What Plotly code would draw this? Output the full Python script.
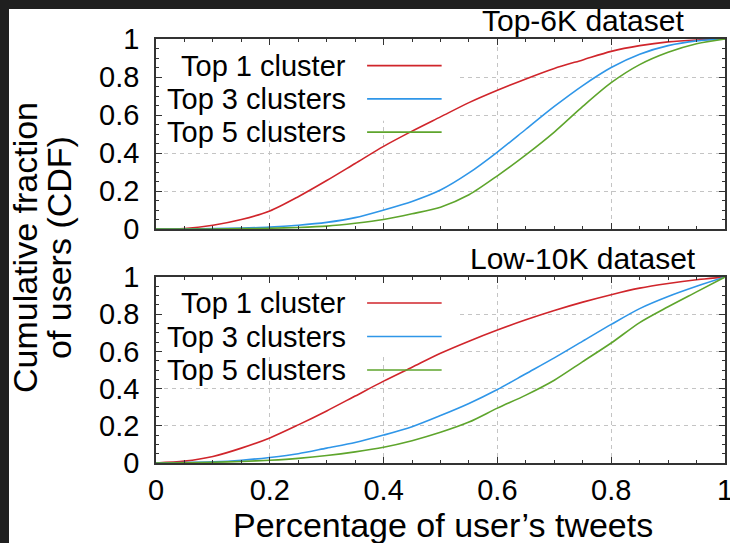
import plotly.graph_objects as go

# Fraction of a user's tweets (x) and cumulative fraction of users (y)
pct = [0.0, 0.05, 0.1, 0.15, 0.2, 0.25, 0.3, 0.35, 0.4, 0.45, 0.5,
       0.55, 0.6, 0.65, 0.7, 0.75, 0.8, 0.85, 0.9, 0.95, 1.0]

# Top-6K dataset
top6k_top1 = [0, 0.003, 0.02, 0.05, 0.095, 0.17, 0.255, 0.345, 0.435, 0.515, 0.59,
              0.665, 0.73, 0.79, 0.845, 0.89, 0.935, 0.965, 0.985, 0.995, 1.0]
top6k_top3 = [0, 0, 0.002, 0.005, 0.01, 0.02, 0.035, 0.06, 0.10, 0.145, 0.205,
              0.295, 0.405, 0.525, 0.645, 0.755, 0.85, 0.92, 0.965, 0.99, 1.0]
top6k_top5 = [0, 0, 0, 0.002, 0.004, 0.008, 0.015, 0.03, 0.05, 0.08, 0.115,
              0.18, 0.28, 0.39, 0.51, 0.645, 0.77, 0.865, 0.93, 0.975, 1.0]

# Low-10K dataset
low10k_top1 = [0, 0.01, 0.035, 0.08, 0.135, 0.205, 0.28, 0.36, 0.44, 0.515, 0.59,
               0.655, 0.715, 0.77, 0.82, 0.865, 0.905, 0.94, 0.965, 0.985, 1.0]
low10k_top3 = [0, 0.002, 0.006, 0.015, 0.03, 0.05, 0.08, 0.11, 0.15, 0.195, 0.255,
               0.32, 0.395, 0.48, 0.565, 0.655, 0.745, 0.83, 0.895, 0.95, 1.0]
low10k_top5 = [0, 0.001, 0.004, 0.008, 0.015, 0.025, 0.04, 0.06, 0.085, 0.12, 0.165,
               0.22, 0.295, 0.365, 0.445, 0.545, 0.645, 0.755, 0.84, 0.92, 1.0]

series_names = ["Top 1 cluster", "Top 3 clusters", "Top 5 clusters"]
colors = ["#d0252b", "#2f96e8", "#5ea52c"]
panel_titles = ["Top-6K dataset", "Low-10K dataset"]
tick_vals = [0, 0.2, 0.4, 0.6, 0.8, 1]
tick_text = ["0", "0.2", "0.4", "0.6", "0.8", "1"]

FONT = "Liberation Sans, Arial, Helvetica, sans-serif"
W, H = 730, 543
ML, MR, MT, MB = 156, 5, 39, 80
PW, PH = W - ML - MR, H - MT - MB


def px_to_paper_x(p):
    return (p - ML) / PW


def px_to_paper_y(p):
    return (H - MB - p) / PH


fig = go.Figure()

panels = [
    ("x2", "y2", [top6k_top1, top6k_top3, top6k_top5]),
    ("x", "y", [low10k_top1, low10k_top3, low10k_top5]),
]
for xa, ya, data in panels:
    for name, col, vals in zip(series_names, colors, data):
        fig.add_trace(go.Scatter(
            x=pct, y=vals, mode="lines", name=name, xaxis=xa, yaxis=ya,
            line=dict(color=col, width=1.6, shape="spline", smoothing=0.8),
            showlegend=False, hoverinfo="skip",
        ))

axis_common = dict(
    range=[0, 1], showline=True, linecolor="#333333", linewidth=1.5,
    mirror="allticks", ticks="inside", ticklen=6, tickwidth=1.2, tickcolor="#333333",
    tickvals=tick_vals, ticktext=tick_text,
    showgrid=True, gridcolor="#c4c4c4", gridwidth=1, griddash="4px,4px",
    zeroline=False, automargin=False,
    minor=dict(dtick=0.05, tick0=0, ticks="inside", ticklen=3, tickwidth=1,
               tickcolor="#333333", showgrid=False),
    tickfont=dict(family=FONT, size=29, color="#000000"),
    ticklabeloverflow="allow",
)

top_dom = [px_to_paper_y(229), 1.0]
bot_dom = [0.0, px_to_paper_y(277)]

fig.update_layout(
    width=W, height=H,
    margin=dict(l=ML, r=MR, t=MT, b=MB, autoexpand=False),
    paper_bgcolor="white", plot_bgcolor="white",
    font=dict(family=FONT, color="#000000"),
    xaxis=dict(axis_common, anchor="y", ticklabelstandoff=0),
    yaxis=dict(axis_common, domain=bot_dom, anchor="x", ticklabelstandoff=9),
    xaxis2=dict(axis_common, anchor="y2", matches="x", showticklabels=False),
    yaxis2=dict(axis_common, domain=top_dom, anchor="x2", ticklabelstandoff=9),
    showlegend=False,
)

shapes = []
annotations = []

# Opaque key boxes with text on the left and a line sample on the right
key_rows = {
    ("x2", "y2"): [0.86, 0.685, 0.51],
    ("x", "y"): [0.86, 0.68, 0.5],
}
for (xa, ya), rows in key_rows.items():
    shapes.append(dict(type="rect", xref=xa, yref=ya, x0=0, x1=0.53, y0=0.57, y1=1.0,
                       fillcolor="white", line=dict(width=0), layer="between"))
    for name, col, yv in zip(series_names, colors, rows):
        annotations.append(dict(x=0.337, y=yv, xref=xa, yref=ya, text=name,
                                showarrow=False, xanchor="right", yanchor="middle",
                                font=dict(family=FONT, size=29, color="#000000")))
        shapes.append(dict(type="line", xref=xa, yref=ya, x0=0.371, x1=0.502,
                           y0=yv, y1=yv, line=dict(color=col, width=1.6)))

# Panel titles
for title, ypx in zip(panel_titles, [20, 258]):
    annotations.append(dict(x=px_to_paper_x(583), y=px_to_paper_y(ypx), xref="paper",
                            yref="paper", text=title, showarrow=False,
                            xanchor="center", yanchor="middle",
                            font=dict(family=FONT, size=30, color="#000000")))

# Axis titles
annotations.append(dict(x=px_to_paper_x(443), y=px_to_paper_y(525), xref="paper",
                        yref="paper", text="Percentage of user’s tweets",
                        showarrow=False, xanchor="center", yanchor="middle",
                        font=dict(family=FONT, size=34, color="#000000")))
for line_txt, xpx in zip(["Cumulative fraction", "of users (CDF)"], [25, 59]):
    annotations.append(dict(x=px_to_paper_x(xpx), y=px_to_paper_y(248), xref="paper",
                            yref="paper", text=line_txt, textangle=-90,
                            showarrow=False, xanchor="center", yanchor="middle",
                            font=dict(family=FONT, size=34, color="#000000")))

# Dark frame along the left and top edges
dark = "#1f1f1f"
shapes.append(dict(type="rect", xref="paper", yref="paper",
                   x0=px_to_paper_x(0), x1=px_to_paper_x(9),
                   y0=px_to_paper_y(H), y1=px_to_paper_y(0),
                   fillcolor=dark, line=dict(width=0), layer="above"))
shapes.append(dict(type="rect", xref="paper", yref="paper",
                   x0=px_to_paper_x(0), x1=px_to_paper_x(W),
                   y0=px_to_paper_y(9), y1=px_to_paper_y(0),
                   fillcolor=dark, line=dict(width=0), layer="above"))

fig.update_layout(shapes=shapes, annotations=annotations)

fig.write_html("out.html")
